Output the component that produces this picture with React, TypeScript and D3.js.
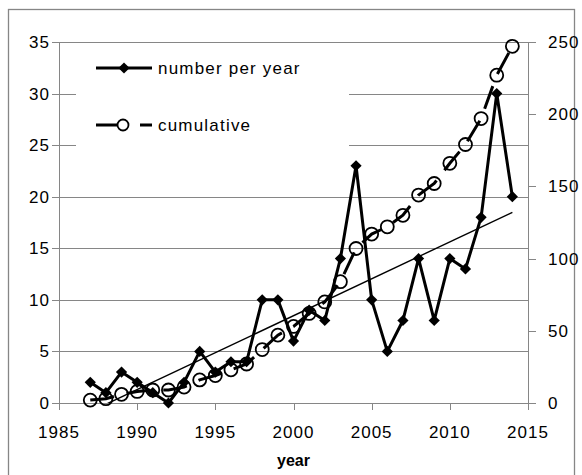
import * as d3 from 'd3';

const years = [
    1987, 1988, 1989, 1990, 1991, 1992, 1993, 1994, 1995, 1996, 1997, 1998, 1999, 2000,
    2001, 2002, 2003, 2004, 2005, 2006, 2007, 2008, 2009, 2010, 2011, 2012, 2013, 2014,
];
const perYear = [2, 1, 3, 2, 1, 0, 2, 5, 3, 4, 4, 10, 10, 6, 9, 8, 14, 23, 10, 5, 8, 14, 8, 14, 13, 18, 30, 20];
const cumulative = [
    2, 3, 6, 8, 9, 9, 11, 16, 19, 23, 27, 37, 47, 53, 62, 70, 84, 107, 117, 122, 130, 144, 152,
    166, 179, 197, 227, 247,
];
const xTicks = [1985, 1990, 1995, 2000, 2005, 2010, 2015];
const leftTicks = [0, 5, 10, 15, 20, 25, 30, 35];
const rightTicks = [0, 50, 100, 150, 200, 250];

const W = 582;
const H = 475;
const plot = { left: 59, right: 528, top: 42, bottom: 403 };
const gray = '#868686';
const font = '"Liberation Sans", Arial, sans-serif';

export default function App() {
    const x = d3.scaleLinear().domain([1985, 2015]).range([plot.left, plot.right]);
    const y = d3.scaleLinear().domain([0, 35]).range([plot.bottom, plot.top]);
    const y2 = d3.scaleLinear().domain([0, 250]).range([plot.bottom, plot.top]);

    // linear trendline of the yearly numbers (least squares)
    const mx = d3.mean(years) as number;
    const my = d3.mean(perYear) as number;
    const sxy = d3.sum(years, (yr, i) => (yr - mx) * (perYear[i] - my));
    const sxx = d3.sum(years, (yr) => (yr - mx) ** 2);
    const slope = sxy / sxx;
    const trend = (yr: number) => my + slope * (yr - mx);
    const t0 = years[0];
    const t1 = years[years.length - 1];

    const perLine = d3
        .line<number>()
        .x((_, i) => x(years[i]))
        .y((d) => y(d));
    const cumLine = d3
        .line<number>()
        .x((_, i) => x(years[i]))
        .y((d) => y2(d));

    const diamond = d3.symbol().type(d3.symbolDiamond2).size(80)() ?? '';

    const legendX = 96;

    return (
        <div style={{ position: 'absolute', left: 0, top: 0 }}>
            <svg width={W} height={H} style={{ display: 'block', fontFamily: font }}>
                <rect width={W} height={H} fill="#fff" />
                <rect x={8.5} y={9.5} width={566} height={480} fill="none" stroke={gray} strokeWidth={1.3} />
                <defs>
                    <clipPath id="plot-clip">
                        <rect
                            x={plot.left}
                            y={plot.top}
                            width={plot.right - plot.left}
                            height={plot.bottom - plot.top}
                        />
                    </clipPath>
                </defs>

                {/* gridlines */}
                {leftTicks.slice(1).map((t) => (
                    <line
                        key={t}
                        x1={plot.left - 7}
                        x2={plot.right}
                        y1={Math.round(y(t)) + 0.5}
                        y2={Math.round(y(t)) + 0.5}
                        stroke={gray}
                    />
                ))}

                {/* axes */}
                <line x1={plot.left + 0.5} x2={plot.left + 0.5} y1={plot.top} y2={plot.bottom} stroke={gray} />
                <line x1={plot.right + 0.5} x2={plot.right + 0.5} y1={plot.top} y2={plot.bottom} stroke={gray} />
                <line x1={plot.left - 7} x2={plot.right + 8} y1={plot.bottom + 0.5} y2={plot.bottom + 0.5} stroke={gray} />
                {xTicks.map((t) => (
                    <g key={t}>
                        <line
                            x1={Math.round(x(t)) + 0.5}
                            x2={Math.round(x(t)) + 0.5}
                            y1={plot.bottom}
                            y2={plot.bottom + 7}
                            stroke={gray}
                        />
                        <text x={x(t)} y={438} textAnchor="middle" fontSize={17} letterSpacing={1} fill="#000">
                            {t}
                        </text>
                    </g>
                ))}
                {leftTicks.map((t) => (
                    <text key={t} x={50} y={y(t) + 6} textAnchor="end" fontSize={17} letterSpacing={1} fill="#000">
                        {t}
                    </text>
                ))}
                {rightTicks.map((t) => (
                    <g key={t}>
                        <line
                            x1={plot.right}
                            x2={plot.right + 8}
                            y1={Math.round(y2(t)) + 0.5}
                            y2={Math.round(y2(t)) + 0.5}
                            stroke={gray}
                        />
                        <text x={548} y={y2(t) + 6} fontSize={17} letterSpacing={1} fill="#000">
                            {t}
                        </text>
                    </g>
                ))}
                <text x={(plot.left + plot.right) / 2} y={466} textAnchor="middle" fontSize={16} fontWeight="bold">
                    year
                </text>

                {/* legend box */}
                <rect x={76} y={48} width={273} height={105} fill="#fff" />

                {/* number per year */}
                <path d={perLine(perYear) ?? ''} fill="none" stroke="#000" strokeWidth={3} strokeLinejoin="round" />
                {perYear.map((d, i) => (
                    <path key={i} d={diamond} transform={`translate(${x(years[i])},${y(d)})`} fill="#000" />
                ))}

                {/* trendline */}
                <line
                    clipPath="url(#plot-clip)"
                    x1={x(t0)}
                    y1={y(trend(t0))}
                    x2={x(t1)}
                    y2={y(trend(t1))}
                    stroke="#000"
                    strokeWidth={1.4}
                />

                {/* cumulative */}
                <path
                    d={cumLine(cumulative) ?? ''}
                    fill="none"
                    stroke="#000"
                    strokeWidth={3}
                    strokeDasharray="24 13"
                />
                {cumulative.map((d, i) => (
                    <circle key={i} cx={x(years[i])} cy={y2(d)} r={6.5} fill="none" stroke="#000" strokeWidth={1.8} />
                ))}

                {/* legend entries */}
                <line x1={legendX} x2={legendX + 56} y1={68} y2={68} stroke="#000" strokeWidth={3} />
                <path d={diamond} transform={`translate(${legendX + 28},68)`} fill="#000" />
                <text x={158} y={74} fontSize={17} letterSpacing={1.2}>
                    number per year
                </text>
                <line x1={legendX} x2={legendX + 56} y1={125} y2={125} stroke="#000" strokeWidth={3} strokeDasharray="26 18" />
                <circle cx={legendX + 27} cy={125} r={5.5} fill="#fff" stroke="#000" strokeWidth={1.8} />
                <text x={158} y={131} fontSize={17} letterSpacing={1.2}>
                    cumulative
                </text>
            </svg>
        </div>
    );
}
